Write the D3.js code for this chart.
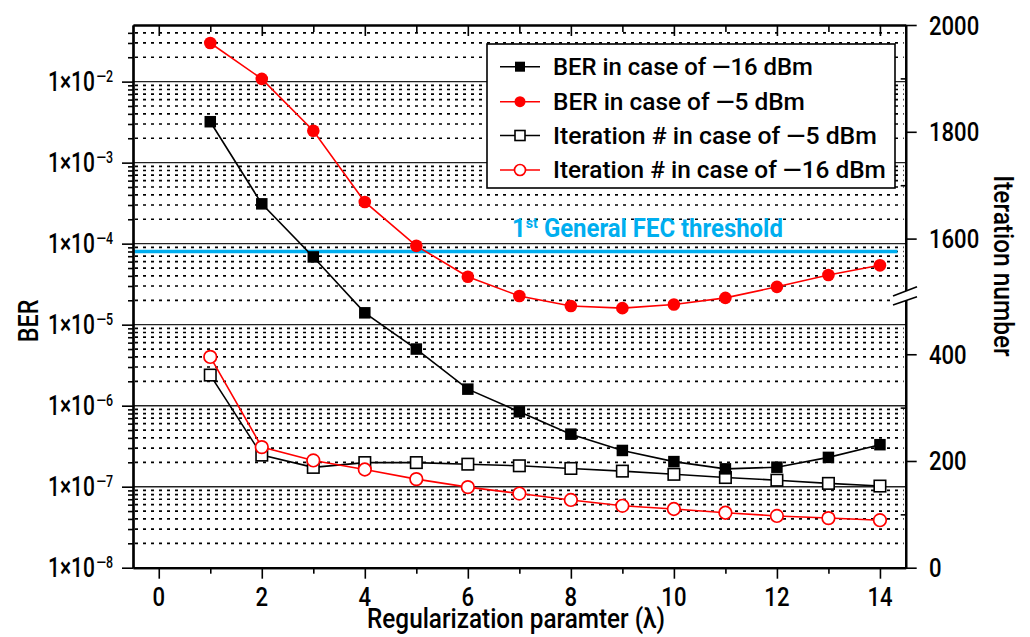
<!DOCTYPE html>
<html>
<head>
<meta charset="utf-8">
<script src="https://cdn.jsdelivr.net/npm/d3@7"></script>
<style>
  body { margin: 0; background: #fff; }
  svg { display: block; }
  text { font-family: Roboto, "DejaVu Sans", sans-serif; fill: #000; font-weight: 500; }
</style>
</head>
<body>
<svg></svg>
<script>
// values
var lambdas = [1, 2, 3, 4, 5, 6, 7, 8, 9, 10, 11, 12, 13, 14];
var berM16 = [3.2e-3, 3.1e-4, 6.85e-5, 1.4e-5, 5.0e-6, 1.6e-6, 8.4e-7, 4.45e-7, 2.8e-7, 2.04e-7, 1.66e-7, 1.74e-7, 2.3e-7, 3.3e-7];
var berM5 = [3.0e-2, 1.08e-2, 2.48e-3, 3.27e-4, 9.4e-5, 3.9e-5, 2.26e-5, 1.7e-5, 1.6e-5, 1.77e-5, 2.14e-5, 2.93e-5, 4.1e-5, 5.4e-5];
var iterM5 = [361, 211, 188, 197, 197, 194, 191, 186, 181, 175, 169, 164, 158, 153];
var iterM16 = [395, 226, 201, 184, 166, 151, 139, 127, 116, 110, 103, 97, 93, 89];
var fecThreshold = 8.0e-5;

var xTicks = [0, 2, 4, 6, 8, 10, 12, 14];
var xMinor = [1, 3, 5, 7, 9, 11, 13];
var berDecades = [1e-8, 1e-7, 1e-6, 1e-5, 1e-4, 1e-3, 1e-2];
var berExps = [-8, -7, -6, -5, -4, -3, -2];
var iterTicks = [0, 200, 400, 1600, 1800, 2000];
var iterMinor = [100, 300, 1700, 1900];

var legendLabels = [
  "BER in case of \u201416 dBm",
  "BER in case of \u20145 dBm",
  "Iteration # in case of \u20145 dBm",
  "Iteration # in case of \u201416 dBm"
];

var w = 1030, h = 637;
var pLeft = 133, pRight = 905.7, pTop = 25, pBottom = 567.7;

var svg = d3.select("svg").attr("width", w).attr("height", h);
svg.append("rect").attr("width", w).attr("height", h).attr("fill", "#fff");

var x = d3.scaleLinear().domain([-0.5, 14.5]).range([pLeft, pRight]);
var yBer = d3.scaleLog().domain([1e-8, 5e-2]).range([pBottom, pTop]);
// broken right axis: 0-500 below, 1500-2000 above
var yIter = d3.scaleLinear().domain([0, 500, 1500, 2000]).range([pBottom, 300.9, 292, pTop]);

// minor BER values 2..9 per decade
var berMinor = [];
berExps.forEach(function(e) {
  for (var m = 2; m <= 9; m++) {
    var v = m * Math.pow(10, e);
    if (v < 4.9e-2) berMinor.push(v);
  }
});

// fit a text element horizontally to a target width
function fitText(t, px, py, width, rot) {
  var bw = t.node().getBBox().width;
  var s = width ? width / bw : 1;
  t.attr("transform", "translate(" + px + "," + py + ")" + (rot ? " rotate(" + rot + ")" : "") + " scale(" + s + ",1)");
  return s;
}

// grid
var grid = svg.append("g");
grid.selectAll("line.minor")
  .data(berMinor)
  .join("line")
  .attr("class", "minor")
  .attr("x1", pLeft + 2).attr("x2", pRight - 2)
  .attr("y1", function(d) { return yBer(d); })
  .attr("y2", function(d) { return yBer(d); })
  .attr("stroke", "#000")
  .attr("stroke-width", 1.7)
  .attr("stroke-dasharray", "3,5");

grid.selectAll("line.major")
  .data(berDecades.slice(1))
  .join("line")
  .attr("class", "major")
  .attr("x1", pLeft).attr("x2", pRight)
  .attr("y1", function(d) { return yBer(d); })
  .attr("y2", function(d) { return yBer(d); })
  .attr("stroke", "#222")
  .attr("stroke-width", 1.4);

// FEC threshold
svg.append("line")
  .attr("x1", pLeft).attr("x2", x(14.34))
  .attr("y1", yBer(fecThreshold)).attr("y2", yBer(fecThreshold))
  .attr("stroke", "#00AEEF")
  .attr("stroke-width", 3.5);

var fec = svg.append("text")
  .attr("font-weight", "bold")
  .attr("font-size", 25)
  .style("font-weight", "bold")
  .style("fill", "#00AEEF");
fec.append("tspan").text("1");
fec.append("tspan").attr("font-size", 15).attr("dy", -9).text("st");
fec.append("tspan").attr("dy", 9).text(" General FEC threshold");
fitText(fec, 512, 236.7, 271);

// series
function drawMarkers(g, pts, color, shape, filled, size) {
  if (shape == "square") {
    g.selectAll("rect")
      .data(pts)
      .join("rect")
      .attr("x", function(d) { return d[0] - size / 2; })
      .attr("y", function(d) { return d[1] - size / 2; })
      .attr("width", size).attr("height", size)
      .attr("fill", filled ? color : "#fff")
      .attr("stroke", color)
      .attr("stroke-width", filled ? 0 : 1.6);
  } else {
    g.selectAll("circle")
      .data(pts)
      .join("circle")
      .attr("cx", function(d) { return d[0]; })
      .attr("cy", function(d) { return d[1]; })
      .attr("r", size)
      .attr("fill", filled ? color : "#fff")
      .attr("stroke", color)
      .attr("stroke-width", filled ? 0 : 1.7);
  }
}

function drawSeries(vals, yScale, color, shape, filled) {
  var g = svg.append("g");
  var line = d3.line()
    .x(function(d, i) { return x(lambdas[i]); })
    .y(function(d) { return yScale(d); });
  g.append("path")
    .datum(vals)
    .attr("d", line)
    .attr("fill", "none")
    .attr("stroke", color)
    .attr("stroke-width", 1.6);
  var pts = vals.map(function(d, i) { return [x(lambdas[i]), yScale(d)]; });
  drawMarkers(g, pts, color, shape, filled, shape == "square" ? 11.5 : 6.3);
}

drawSeries(iterM5, yIter, "#000", "square", false);
drawSeries(iterM16, yIter, "#ff0000", "circle", false);
drawSeries(berM16, yBer, "#000", "square", true);
drawSeries(berM5, yBer, "#ff0000", "circle", true);

// axes
function styleAxis(g, width) {
  g.select(".domain").attr("stroke", "#000").attr("stroke-width", width);
  g.selectAll(".tick line").attr("stroke", "#000").attr("stroke-width", 1.6);
  g.selectAll(".tick text").remove();
}

var ax;
ax = svg.append("g").attr("transform", "translate(0," + pBottom + ")")
  .call(d3.axisBottom(x).tickValues(xTicks).tickSize(11).tickSizeOuter(0));
styleAxis(ax, 2.2);
ax = svg.append("g").attr("transform", "translate(0," + pBottom + ")")
  .call(d3.axisBottom(x).tickValues(xMinor).tickSize(6).tickSizeOuter(0));
styleAxis(ax, 2.2);
ax = svg.append("g").attr("transform", "translate(0," + pTop + ")")
  .call(d3.axisTop(x).tickValues(xTicks).tickSize(-11).tickSizeOuter(0));
styleAxis(ax, 2.2);
ax = svg.append("g").attr("transform", "translate(0," + pTop + ")")
  .call(d3.axisTop(x).tickValues(xMinor).tickSize(-7).tickSizeOuter(0));
styleAxis(ax, 2.2);

ax = svg.append("g").attr("transform", "translate(" + pLeft + ",0)")
  .call(d3.axisLeft(yBer).tickValues(berDecades).tickSize(11).tickSizeOuter(0));
styleAxis(ax, 2.2);
ax = svg.append("g").attr("transform", "translate(" + pLeft + ",0)")
  .call(d3.axisLeft(yBer).tickValues(berMinor).tickSize(5).tickSizeOuter(0));
styleAxis(ax, 2.2);

ax = svg.append("g").attr("transform", "translate(" + pRight + ",0)")
  .call(d3.axisRight(yIter).tickValues(iterTicks).tickSize(11).tickSizeOuter(0));
styleAxis(ax, 2.2);
ax = svg.append("g").attr("transform", "translate(" + pRight + ",0)")
  .call(d3.axisRight(yIter).tickValues(iterMinor).tickSize(-5).tickSizeOuter(0));
styleAxis(ax, 2.2);

// axis break
svg.append("polygon")
  .attr("points", [[893, 296], [917, 286.7], [917, 296.7], [893, 305]].join(" "))
  .attr("fill", "#fff");
svg.append("line").attr("x1", 893).attr("y1", 296).attr("x2", 917).attr("y2", 286.7)
  .attr("stroke", "#000").attr("stroke-width", 1.6);
svg.append("line").attr("x1", 893).attr("y1", 305).attr("x2", 917).attr("y2", 296.7)
  .attr("stroke", "#000").attr("stroke-width", 1.6);

// left tick labels
berDecades.forEach(function(d, i) {
  var t = svg.append("text").attr("text-anchor", "end").attr("font-size", 27);
  t.append("tspan").text("1\u00d710");
  t.append("tspan").attr("font-size", 16).attr("dy", -9).attr("dx", 2).text("\u2014" + (-berExps[i]));
  fitText(t, 113, yBer(d) + 9.5, 65);
});

// bottom tick labels
xTicks.forEach(function(d) {
  svg.append("text").attr("text-anchor", "middle").attr("font-size", 26).text(d)
    .attr("transform", "translate(" + x(d) + ",606) scale(0.85,1)");
});

// right tick labels
iterTicks.forEach(function(d) {
  svg.append("text").attr("text-anchor", "start").attr("font-size", 26).text(d)
    .attr("transform", "translate(929," + (yIter(d) + 9.5) + ") scale(0.85,1)");
});

// axis titles
var xt = svg.append("text").attr("text-anchor", "middle").attr("font-size", 27)
  .text("Regularization paramter (\u03bb)");
fitText(xt, 516, 628, 298);

var yt = svg.append("text").attr("text-anchor", "middle").attr("font-size", 28).text("BER");
fitText(yt, 38, 321, 43, -90);

var yt2 = svg.append("text").attr("text-anchor", "middle").attr("font-size", 27).text("Iteration number");
fitText(yt2, 994, 266, 182, 90);

// legend
var lg = svg.append("g");
lg.append("rect")
  .attr("x", 487).attr("y", 44)
  .attr("width", 408).attr("height", 144)
  .attr("fill", "#fff")
  .attr("stroke", "#000")
  .attr("stroke-width", 1.6);

var legendRows = [66.7, 101.7, 135.5, 170];
var legendStyle = [
  ["#000", "square", true],
  ["#ff0000", "circle", true],
  ["#000", "square", false],
  ["#ff0000", "circle", false]
];
var legendWidths = [260, 252, 324, 333];

legendLabels.forEach(function(label, i) {
  var cy = legendRows[i];
  var st = legendStyle[i];
  var g = lg.append("g");
  g.append("line")
    .attr("x1", 500).attr("x2", 540)
    .attr("y1", cy).attr("y2", cy)
    .attr("stroke", st[0]).attr("stroke-width", 1.6);
  drawMarkers(g, [[520, cy]], st[0], st[1], st[2], st[1] == "square" ? 10 : 5.5);
  var t = g.append("text").attr("font-size", 23.5).text(label);
  fitText(t, 553, cy + 8, legendWidths[i]);
});
</script>
</body>
</html>
